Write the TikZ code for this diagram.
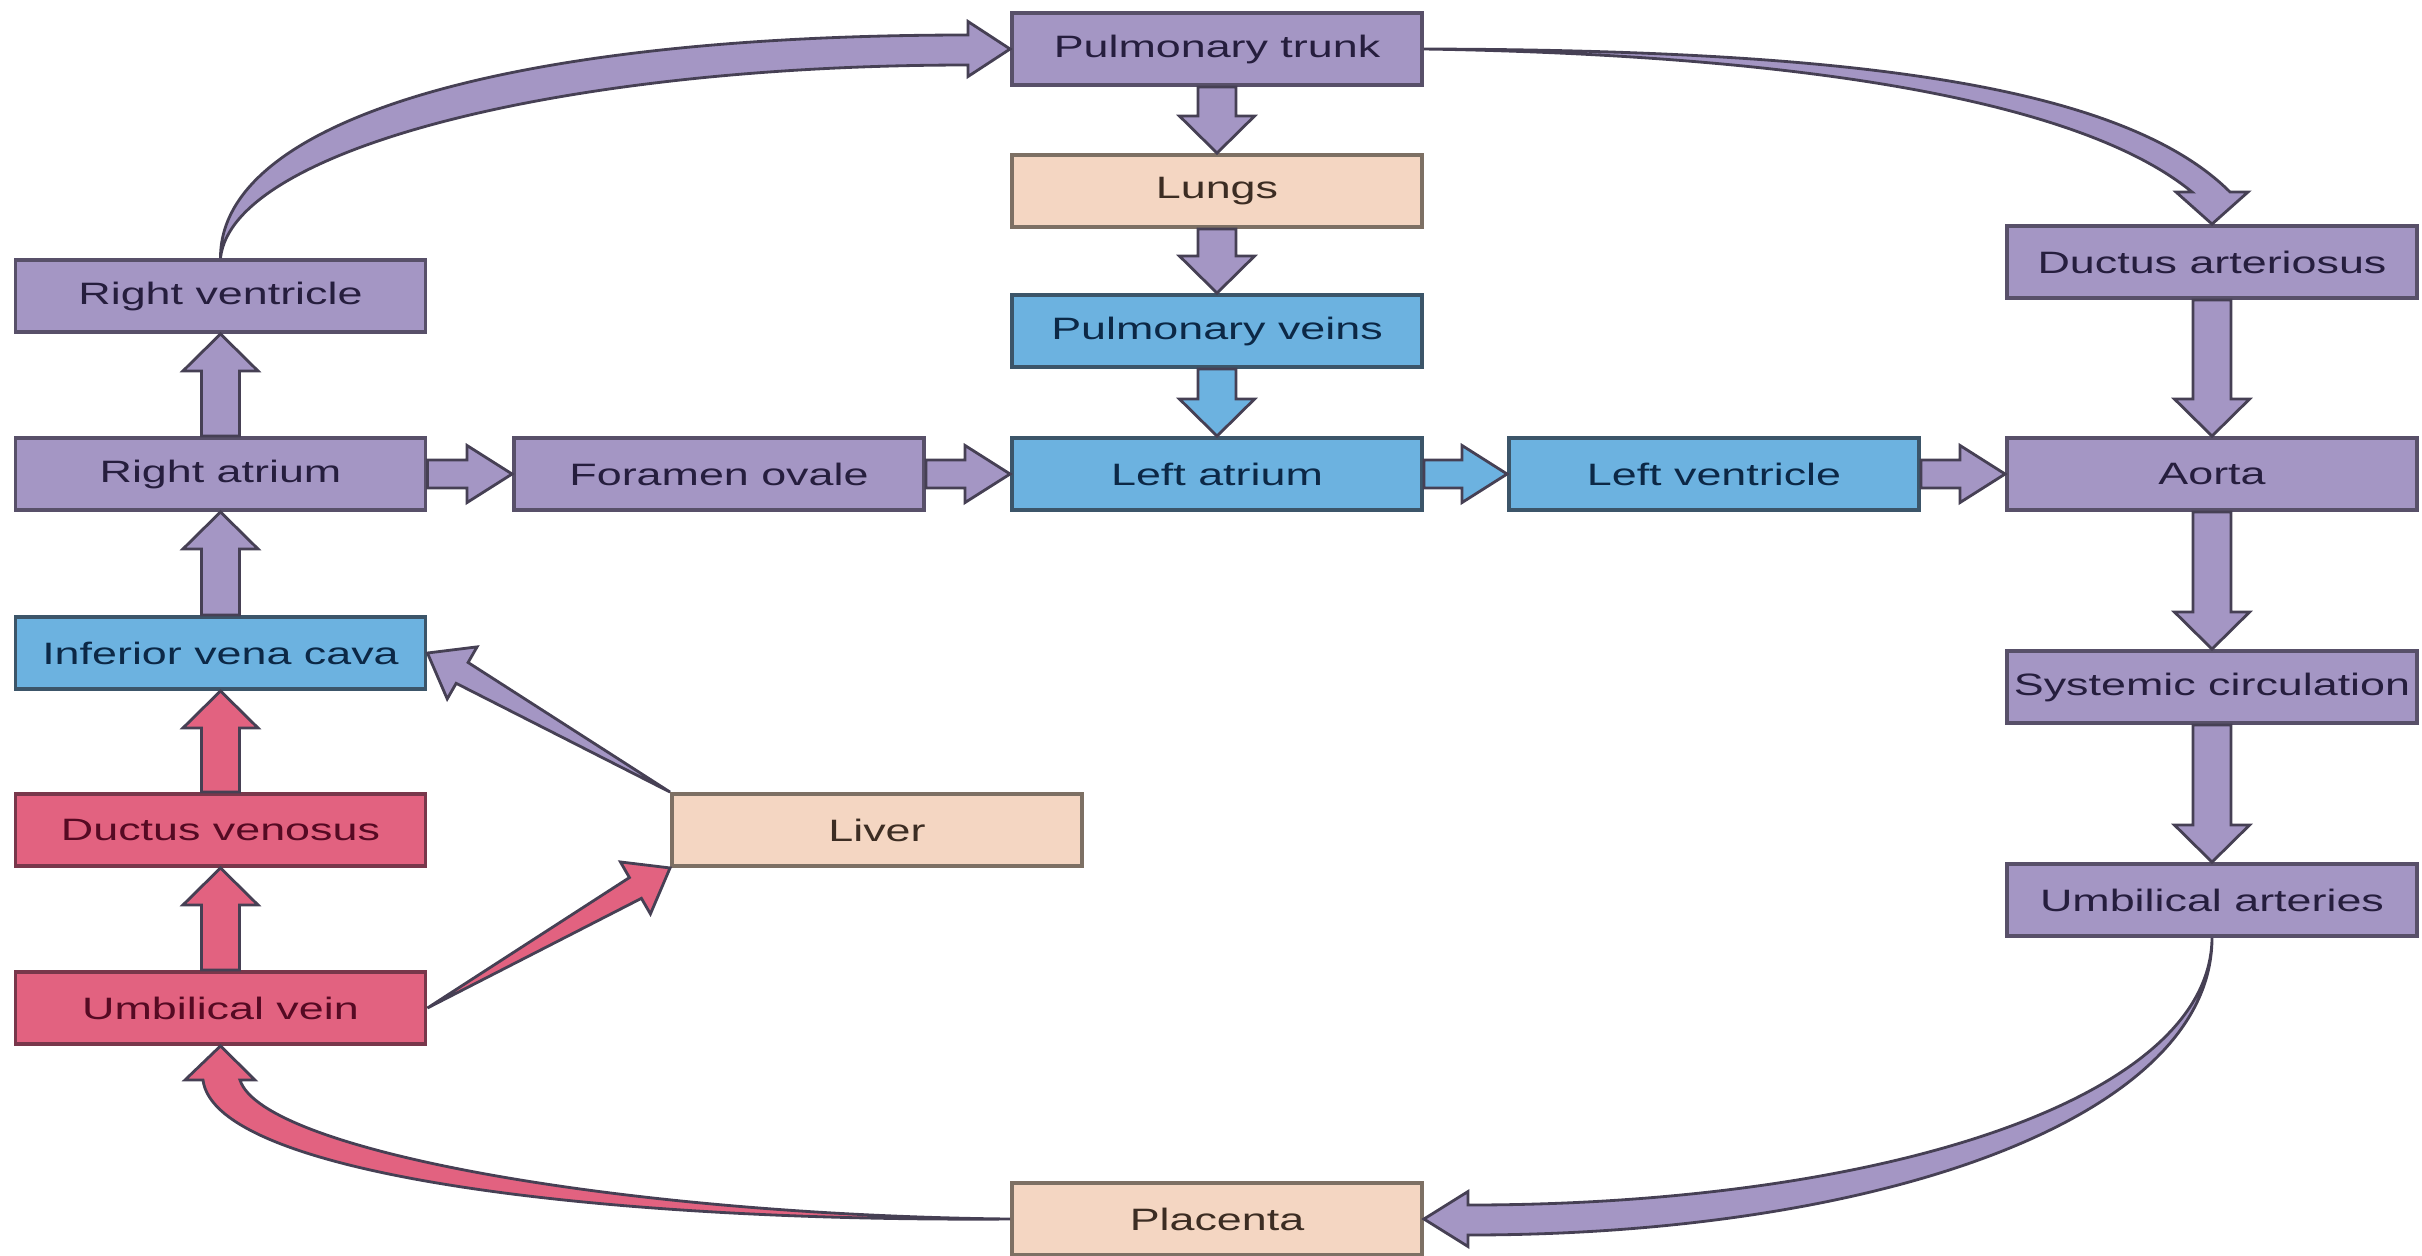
\documentclass[tikz,border=0pt]{standalone}
\usepackage{fontspec}
\newfontfamily\labelfont{Liberation Sans}[FakeStretch=1.45]
\usetikzlibrary{calc}

\definecolor{purplefill}{RGB}{164,150,196}
\definecolor{purpleline}{RGB}{88,80,105}
\definecolor{purpletext}{RGB}{38,30,62}
\definecolor{bluefill}{RGB}{108,178,224}
\definecolor{blueline}{RGB}{60,85,105}
\definecolor{bluetext}{RGB}{12,40,70}
\definecolor{pinkfill}{RGB}{226,98,128}
\definecolor{pinkline}{RGB}{120,55,75}
\definecolor{pinktext}{RGB}{85,10,35}
\definecolor{peachfill}{RGB}{244,214,194}
\definecolor{peachline}{RGB}{125,112,100}
\definecolor{peachtext}{RGB}{60,45,35}
\definecolor{arrowline}{RGB}{70,64,84}

% block arrow: fill, shaft half width, head half width, head length, from, to
\newcommand{\blockarrow}[6]{%
  \coordinate (hb) at ($(#6)!#4!(#5)$);
  \filldraw[flowline,fill=#1]
    ($(#5)!#2!90:(#6)$) -- ($(hb)!#2!90:(#6)$) -- ($(hb)!#3!90:(#6)$) -- (#6)
    -- ($(hb)!#3!-90:(#6)$) -- ($(hb)!#2!-90:(#6)$) -- ($(#5)!#2!-90:(#6)$) -- cycle;}
\newcommand{\vflow}[3]{\blockarrow{#1}{0.19cm}{0.375cm}{0.37cm}{#2}{#3}}
\newcommand{\hflow}[3]{\blockarrow{#1}{0.14cm}{0.285cm}{0.45cm}{#2}{#3}}
% tapered arrow from a point
\newcommand{\dflow}[3]{%
  \coordinate (hb) at ($(#3)!0.40cm!(#2)$);
  \filldraw[flowline,fill=#1]
    (#2) -- ($(hb)!0.12cm!90:(#3)$) -- ($(hb)!0.30cm!90:(#3)$) -- (#3)
    -- ($(hb)!0.30cm!-90:(#3)$) -- ($(hb)!0.12cm!-90:(#3)$) -- cycle;}

\begin{document}
\begin{tikzpicture}[
  organ/.style={rectangle,minimum width=4.10cm,minimum height=0.72cm,inner sep=0pt,
    line width=1.1pt,font=\labelfont\fontsize{8.8}{10}\selectfont},
  pbox/.style={organ,draw=purpleline,fill=purplefill,text=purpletext},
  bbox/.style={organ,draw=blueline,fill=bluefill,text=bluetext},
  rbox/.style={organ,draw=pinkline,fill=pinkfill,text=pinktext},
  tbox/.style={organ,draw=peachline,fill=peachfill,text=peachtext},
  flowline/.style={draw=arrowline,line width=0.8pt,line join=miter}]
\useasboundingbox (0,0) rectangle (24.22,-12.55);
%
\node[pbox] (RV) at (2.205,-2.96) {Right ventricle};
\node[pbox] (RA) at (2.205,-4.74) {Right atrium};
\node[bbox] (IVC) at (2.205,-6.53) {Inferior vena cava};
\node[rbox] (DV) at (2.205,-8.30) {Ductus venosus};
\node[rbox] (UV) at (2.205,-10.08) {Umbilical vein};
\node[pbox] (FO) at (7.19,-4.74) {Foramen ovale};
\node[tbox] (liver) at (8.77,-8.30) {Liver};
\node[pbox] (PT) at (12.17,-0.49) {Pulmonary trunk};
\node[tbox] (lungs) at (12.17,-1.91) {Lungs};
\node[bbox] (PV) at (12.17,-3.31) {Pulmonary veins};
\node[bbox] (LA) at (12.17,-4.74) {Left atrium};
\node[tbox] (placenta) at (12.17,-12.19) {Placenta};
\node[bbox] (LV) at (17.14,-4.74) {Left ventricle};
\node[pbox] (DA) at (22.12,-2.62) {Ductus arteriosus};
\node[pbox] (aorta) at (22.12,-4.74) {Aorta};
\node[pbox] (SC) at (22.12,-6.87) {Systemic circulation};
\node[pbox] (UA) at (22.12,-9.00) {Umbilical arteries};
%
\vflow{pinkfill}{UV.north}{DV.south}
\vflow{pinkfill}{DV.north}{IVC.south}
\vflow{purplefill}{IVC.north}{RA.south}
\vflow{purplefill}{RA.north}{RV.south}
\vflow{purplefill}{PT.south}{lungs.north}
\vflow{purplefill}{lungs.south}{PV.north}
\vflow{bluefill}{PV.south}{LA.north}
\vflow{purplefill}{DA.south}{aorta.north}
\vflow{purplefill}{aorta.south}{SC.north}
\vflow{purplefill}{SC.south}{UA.north}
%
\hflow{purplefill}{RA.east}{FO.west}
\hflow{purplefill}{FO.east}{LA.west}
\hflow{bluefill}{LA.east}{LV.west}
\hflow{purplefill}{LV.east}{aorta.west}
%
\dflow{purplefill}{liver.north west}{IVC.east}
\dflow{pinkfill}{UV.east}{liver.south west}
%
\filldraw[flowline,fill=purplefill] (RV.north)
  .. controls (2.20,-1.20) and (5.08,-0.35) .. (9.68,-0.35) -- (9.68,-0.215)
  -- (PT.west) -- (9.68,-0.765) -- (9.68,-0.65)
  .. controls (5.60,-0.65) and (2.32,-1.50) .. (RV.north) -- cycle;
\filldraw[flowline,fill=purplefill] (PT.east)
  .. controls (18.22,-0.50) and (21.17,-0.79) .. (22.30,-1.92) -- (22.48,-1.92)
  -- (DA.north) -- (21.76,-1.92) -- (21.92,-1.92)
  .. controls (20.80,-1.00) and (18.00,-0.55) .. (PT.east) -- cycle;
\filldraw[flowline,fill=purplefill] (UA.south)
  .. controls (22.12,-11.19) and (18.78,-12.35) .. (14.68,-12.35) -- (14.68,-12.465)
  -- (placenta.east) -- (14.68,-11.915) -- (14.68,-12.05)
  .. controls (18.68,-12.05) and (22.10,-11.04) .. (UA.south) -- cycle;
\filldraw[flowline,fill=pinkfill] (placenta.west)
  .. controls (6.00,-12.22) and (2.15,-11.75) .. (2.03,-10.80) -- (1.85,-10.80)
  -- (UV.south) -- (2.55,-10.80) -- (2.40,-10.80)
  .. controls (2.62,-11.50) and (6.20,-12.15) .. (placenta.west) -- cycle;
\end{tikzpicture}
\end{document}
